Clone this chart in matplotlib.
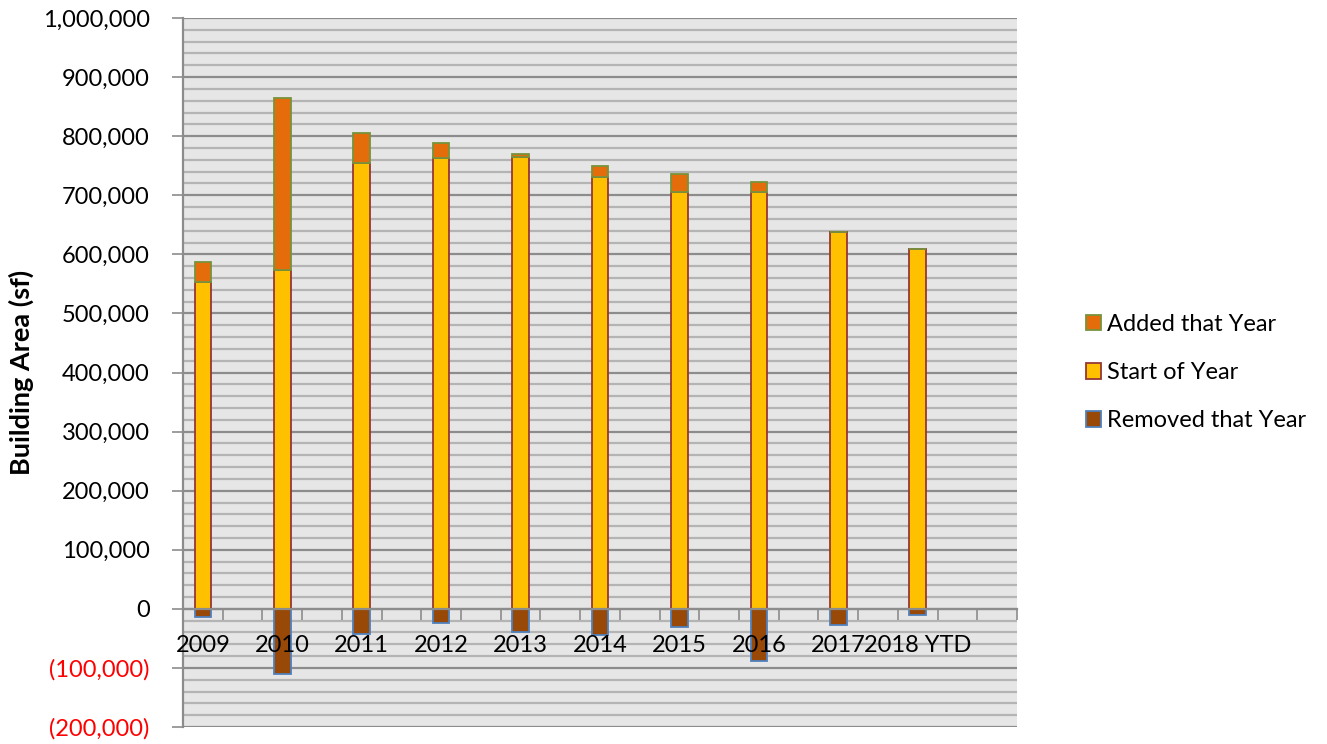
import numpy as np
import matplotlib.pyplot as plt
from matplotlib.ticker import FuncFormatter, MultipleLocator, FixedLocator

years = ['2009', '2010', '2011', '2012', '2013', '2014', '2015', '2016', '2017', '2018 YTD']
start_of_year = [553000, 573000, 754000, 763500, 765000, 731000, 705500, 705500, 637000, 609000]
added = [34000, 291000, 52000, 25500, 4000, 19000, 30000, 17500, 0, 0]
removed = [-13000, -110000, -43000, -24000, -39000, -43500, -30000, -87500, -27500, -11000]

plt.rcParams['font.family'] = ['Lato', 'DejaVu Sans']
FS = 17

fig = plt.figure(figsize=(13.27, 7.44), dpi=100)
ax = fig.add_axes([0.1379, 0.0228, 0.6285, 0.953])
ax.set_facecolor('#E6E6E6')

# every second category slot is empty in the original sheet
x = np.arange(len(years)) * 2
w = 0.42

ax.bar(x, removed, w, color='#984807', edgecolor='#4F81BD', linewidth=1.3,
       label='Removed that Year', zorder=2)
ax.bar(x, start_of_year, w, color='#FFC000', edgecolor='#953735', linewidth=1.3,
       label='Start of Year', zorder=2)
ax.bar(x, added, w, bottom=start_of_year, color='#E46C0A', edgecolor='#77933C',
       linewidth=1.3, label='Added that Year', zorder=2)

ax.set_xlim(-0.5, len(years) * 2 + 0.5)
ax.set_ylim(-200000, 1000000)

ax.yaxis.set_major_locator(MultipleLocator(100000))
ax.yaxis.set_minor_locator(MultipleLocator(20000))

# gridlines drawn by hand so the tick labels can sit on top of the bars
for v in np.arange(-200000, 1000001, 20000):
    major = v % 100000 == 0
    ax.axhline(v, color='#8C8C8C' if major else '#B4B4B4', linewidth=1.6, zorder=1)
ax.set_axisbelow(False)


def fmt(v, pos):
    if v < 0:
        return f'({abs(v):,.0f})'
    return f'{v:,.0f}'


ax.yaxis.set_major_formatter(FuncFormatter(fmt))

ax.tick_params(axis='y', which='major', length=8, width=1.2, color='#8C8C8C',
               labelsize=FS, pad=16)
ax.tick_params(axis='y', which='minor', length=0)

# category axis crosses at zero
ax.spines['bottom'].set_position(('data', 0))
ax.spines['bottom'].set_color('#8C8C8C')
ax.spines['bottom'].set_linewidth(1.6)
ax.spines['top'].set_visible(False)
ax.spines['right'].set_visible(False)
ax.spines['left'].set_color('#8C8C8C')
ax.spines['left'].set_linewidth(1.6)

ax.set_xticks(x)
ax.set_xticklabels(years)
ax.xaxis.set_minor_locator(FixedLocator(np.arange(-0.5, len(years) * 2 + 1, 1)))
ax.tick_params(axis='x', which='major', length=0, labelsize=FS, pad=19)
ax.tick_params(axis='x', which='minor', length=8, width=1.2, color='#8C8C8C',
               direction='out')

ax.set_ylabel('Building Area (sf)', fontsize=19.5, fontweight='bold')
ax.yaxis.set_label_coords(-0.179, 0.5)

fig.canvas.draw()
for lbl in ax.get_yticklabels():
    if lbl.get_text().startswith('('):
        lbl.set_color('#FF0000')

handles, labels = ax.get_legend_handles_labels()
ax.legend(handles[::-1], labels[::-1], loc='center left', bbox_to_anchor=(1.057, 0.5),
          frameon=False, fontsize=FS, handlelength=0.65, handleheight=0.65,
          handletextpad=0.25, labelspacing=1.15)

fig.savefig('out.png', dpi=100)
